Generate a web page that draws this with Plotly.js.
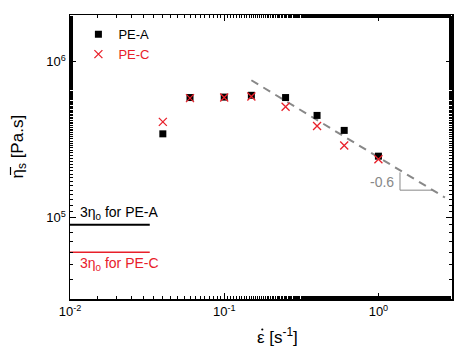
<!DOCTYPE html>
<html><head><meta charset="utf-8">
<script src="https://cdn.plot.ly/plotly-3.0.1.min.js"></script>
<style>html,body{margin:0;padding:0;background:#fff}#chart{width:469px;height:356px}</style>
</head><body><div id="chart"></div>
<script>
// Data
const rateA = [0.04, 0.06, 0.1, 0.15, 0.25, 0.4, 0.6, 1.0];
const etaA  = [3.45e5, 5.9e5, 5.94e5, 6.1e5, 5.9e5, 4.53e5, 3.63e5, 2.48e5];
const rateC = [0.04, 0.06, 0.1, 0.15, 0.25, 0.4, 0.6, 1.0];
const etaC  = [4.12e5, 5.85e5, 5.9e5, 6.0e5, 5.15e5, 3.87e5, 2.9e5, 2.37e5];
const fitX = [0.15, 2.7];
const fitY = [7.62e5, 1.346e5];
const triX = [1.38, 1.38, 2.26];
const triY = [1.95e5, 1.5e5, 1.5e5];
const eta0A_x = [0.01, 0.0329];
const eta0A_y = [9.0e4, 9.0e4];
const eta0C_x = [0.01, 0.0329];
const eta0C_y = [6.0e4, 6.0e4];
const xTickVals = [0.01, 0.1, 1];
const xTickText = ['10<sup>-2</sup>', '10<sup>-1</sup>', '10<sup>0</sup>'];
const yTickVals = [1e5, 1e6];
const yTickText = ['10<sup>5</sup>', '10<sup>6</sup>'];

const RED = '#e8202a';
const GRAY = '#888888';
const FONT = 'Liberation Sans, Arial, sans-serif';

const traces = [
  {x: eta0A_x, y: eta0A_y, mode: 'lines', line: {color: '#000', width: 2}, showlegend: false, hoverinfo: 'skip'},
  {x: eta0C_x, y: eta0C_y, mode: 'lines', line: {color: RED, width: 1.5}, showlegend: false, hoverinfo: 'skip'},
  {x: fitX, y: fitY, mode: 'lines', line: {color: GRAY, width: 2, dash: '8px,6px'}, showlegend: false},
  {x: triX, y: triY, mode: 'lines', line: {color: GRAY, width: 1}, showlegend: false},
  {x: rateA, y: etaA, mode: 'markers', name: 'PE-A',
   marker: {symbol: 'square', size: 7, color: '#000'}},
  {x: rateC, y: etaC, mode: 'markers', name: '<span style="color:' + RED + '">PE-C</span>',
   marker: {symbol: 'x-thin', size: 8, line: {color: RED, width: 1.3}, color: RED}}
];

const axisCommon = {
  type: 'log', showgrid: false, zeroline: false, showline: true, linecolor: '#000', linewidth: 1.5,
  mirror: 'allticks', ticks: 'inside', ticklen: 6, tickwidth: 1, tickcolor: '#000',
  tickfont: {family: FONT, size: 13, color: '#000'},
  minor: {ticks: 'inside', ticklen: 3, tickwidth: 1, tickcolor: '#000', showgrid: false}
};

// plot area in pixels: left 70, right 452, top 15, bottom 299
const PL = 70, PW = 382, PB = 299, PH = 284;
const px = v => (v - PL) / PW;
const py = v => (PB - v) / PH;

const layout = {
  width: 469, height: 356,
  margin: {l: 70, r: 17, t: 15, b: 57},
  paper_bgcolor: '#fff', plot_bgcolor: '#fff',
  font: {family: FONT, color: '#000'},
  showlegend: true,
  legend: {x: 0.022, y: 0.985, xanchor: 'left', yanchor: 'top', bgcolor: 'rgba(0,0,0,0)',
           font: {family: FONT, size: 13, color: '#000'}, tracegroupgap: 0, itemwidth: 30},
  xaxis: Object.assign({}, axisCommon, {
    range: [-2, Math.log10(3)], tickvals: xTickVals, ticktext: xTickText
  }),
  yaxis: Object.assign({}, axisCommon, {
    range: [Math.log10(3e4), Math.log10(2e6)], tickvals: yTickVals, ticktext: yTickText
  }),
  shapes: [
    // dot over epsilon
    {type: 'circle', xref: 'paper', yref: 'paper', xsizemode: 'pixel', ysizemode: 'pixel',
     xanchor: px(262.3), yanchor: py(329.5), x0: -1.1, x1: 1.1, y0: -1.1, y1: 1.1,
     fillcolor: '#000', line: {width: 0}},
    // bar over eta (rotated title)
    {type: 'line', xref: 'paper', yref: 'paper', x0: px(10.5), x1: px(10.5), y0: py(167), y1: py(175),
     line: {color: '#000', width: 1.2}}
  ],
  annotations: [
    {x: px(277.5), y: py(336), xref: 'paper', yref: 'paper', text: 'ε [s<sup>-1</sup>]',
     showarrow: false, xanchor: 'center', yanchor: 'middle', font: {family: FONT, size: 17, color: '#000'}},
    {x: px(18), y: py(146.5), xref: 'paper', yref: 'paper', text: 'η<sub>s</sub> [Pa.s]', textangle: -90,
     showarrow: false, xanchor: 'center', yanchor: 'middle', font: {family: FONT, size: 17, color: '#000'}},
    {x: Math.log10(0.0113), y: Math.log10(1.07e5), xref: 'x', yref: 'y', text: '3η<sub>0</sub> for PE-A',
     showarrow: false, xanchor: 'left', font: {family: FONT, size: 14, color: '#000'}},
    {x: Math.log10(0.0112), y: Math.log10(5.05e4), xref: 'x', yref: 'y', text: '3η<sub>0</sub> for PE-C',
     showarrow: false, xanchor: 'left', font: {family: FONT, size: 14, color: RED}},
    {x: Math.log10(1.3), y: Math.log10(1.7e5), xref: 'x', yref: 'y', text: '-0.6',
     showarrow: false, xanchor: 'right', font: {family: FONT, size: 14, color: GRAY}}
  ]
};

Plotly.newPlot('chart', traces, layout, {staticPlot: true, displayModeBar: false});
</script></body></html>
